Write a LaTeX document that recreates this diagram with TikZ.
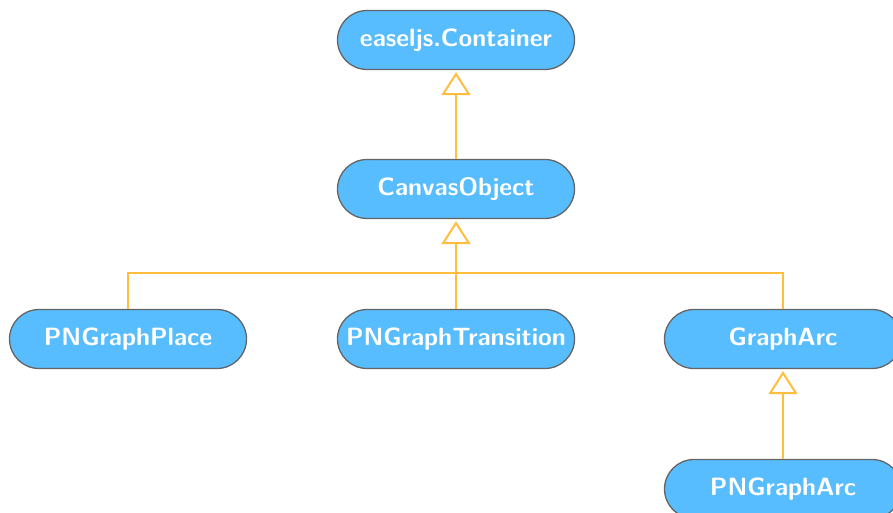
\documentclass[tikz,border=0pt]{standalone}
\usetikzlibrary{arrows.meta}
\definecolor{boxfill}{RGB}{87,189,255}
\definecolor{boxline}{RGB}{100,100,100}
\definecolor{linkcol}{RGB}{255,190,60}
\tikzset{
  classbox/.style={draw=boxline, fill=boxfill, line width=1.3pt,
    rounded corners=29.5pt, minimum width=237pt, minimum height=59pt,
    inner sep=0pt, text=white,
    font=\fontsize{25}{30}\selectfont\sffamily\bfseries},
  link/.style={draw=linkcol, line width=2pt},
  inherit/.style={link, -{Triangle[open, length=23pt, width=29pt, line width=2pt, fill=white]}, shorten >=2pt}
}
\begin{document}
\begin{tikzpicture}[x=1pt, y=-1pt]
  \useasboundingbox (0,0) rectangle (893,513);
  \node[classbox] (ec) at (456,40)  {easeljs.Container};
  \node[classbox] (co) at (456,189) {CanvasObject};
  \node[classbox] (pp) at (128,339) {PNGraphPlace};
  \node[classbox] (pt) at (456,339) {PNGraphTransition};
  \node[classbox] (ga) at (783,339) {GraphArc};
  \node[classbox] (pa) at (783,489) {PNGraphArc};
  \coordinate (bus) at (456,273);
  % inheritance links
  \draw[inherit] (co.north) -- (ec.south);
  \draw[inherit] (pt.north) -- (co.south);
  \draw[link] (pp.north) |- (bus) -| (ga.north);
  \draw[inherit] (pa.north) -- (ga.south);
\end{tikzpicture}
\end{document}
